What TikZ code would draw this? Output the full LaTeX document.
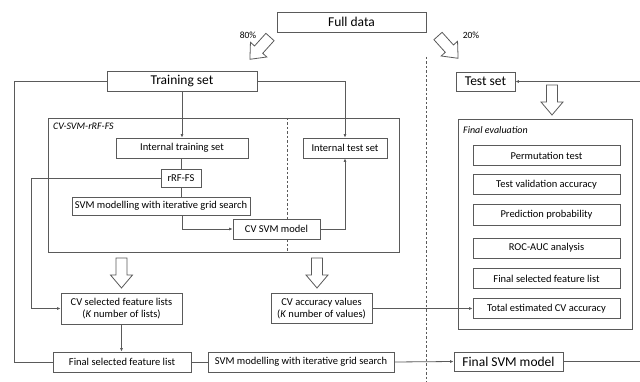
\documentclass[tikz,border=0pt]{standalone}
\usepackage{fontspec}
\setmainfont{Carlito}
\usetikzlibrary{arrows.meta}
\definecolor{ln}{HTML}{5A5A5A}
\begin{document}
\begin{tikzpicture}[x=1pt,y=-1pt,
  box/.style={draw=ln,line width=0.8pt,fill=white,inner sep=0pt,align=center,font=\fontsize{10.5}{12.5}\selectfont},
  bigbox/.style={box,font=\fontsize{13.5}{15}\selectfont},
  frame/.style={draw=ln,line width=0.8pt,inner sep=0pt},
  conn/.style={draw=ln,line width=0.8pt},
  arr/.style={conn,-{Latex[length=3.5pt,width=3pt]}},
  hollow/.pic={\draw[ln,line width=0.8pt,fill=white,line join=miter]
     (-5.5,0) -- (5.5,0) -- (5.5,17) -- (11,17) -- (0,30) -- (-11,17) -- (-5.5,17) -- cycle;},
  lbl/.style={font=\fontsize{9.5}{11}\selectfont,inner sep=0pt},
  ital/.style={font=\fontsize{10}{12}\selectfont\itshape,inner sep=0pt,anchor=west}]
\useasboundingbox (0,0) rectangle (640,382);
\fill[white] (0,0) rectangle (640,382);

% containers
\node[frame,minimum width=351pt,minimum height=134pt] (cvframe) at (223.5,185) {};
\node[ital] (cvlabel) at (53,126) {CV-SVM-rRF-FS};
\draw[ln,line width=0.8pt,dash pattern=on 2.5pt off 2pt] (287.5,118) -- (287.5,252);
\node[frame,minimum width=174pt,minimum height=210pt] (evalframe) at (545,224) {};
\node[ital] (evallabel) at (463,130) {Final evaluation};
\draw[ln,line width=0.8pt,dash pattern=on 2.5pt off 2pt] (426,57) -- (426,382);

% top
\node[bigbox,minimum width=149pt,minimum height=20pt] (full) at (351.5,22) {Full data};
\node[bigbox,minimum width=150pt,minimum height=20pt] (train) at (182,81) {Training set};
\node[bigbox,minimum width=59pt,minimum height=19pt] (test) at (485.5,81.5) {Test set};
\pic[rotate=-42] at (270,37) {hollow};
\pic[rotate=42] at (438,36) {hollow};
\node[lbl] (p80) at (248,35) {80\%};
\node[lbl] (p20) at (471,35) {20\%};
\pic at (552,85) {hollow};

% inner CV
\node[box,minimum width=132pt,minimum height=20pt] (itrain) at (182,148) {Internal training set};
\node[box,minimum width=84pt,minimum height=20pt] (itest) at (345,148) {Internal test set};
\node[box,minimum width=40pt,minimum height=18pt] (rrf) at (181,178) {rRF-FS};
\node[box,minimum width=178pt,minimum height=18pt] (svm1) at (161,206) {SVM modelling with iterative grid search};
\node[box,minimum width=87pt,minimum height=20pt] (cvsvm) at (276.5,229) {CV SVM model};

\pic at (121.5,258) {hollow};
\pic at (317,258) {hollow};

\node[box,minimum width=121pt,minimum height=31pt] (cvsel) at (121.5,308.5) {CV selected feature lists\\(\textit{K} number of lists)};
\node[box,minimum width=101pt,minimum height=30pt] (cvacc) at (321.5,308.5) {CV accuracy values\\(\textit{K} number of values)};
\node[box,minimum width=138pt,minimum height=20pt] (finsel) at (122,362) {Final selected feature list};
\node[box,minimum width=186pt,minimum height=20pt] (svm2) at (301,362) {SVM modelling with iterative grid search};
\node[bigbox,minimum width=109pt,minimum height=19pt] (finsvm) at (508.5,361.5) {Final SVM model};

% eval boxes
\node[box,minimum width=147pt,minimum height=20pt] (perm) at (546.5,155.5) {Permutation test};
\node[box,minimum width=147pt,minimum height=20pt] (tva) at (546.5,184.5) {Test validation accuracy};
\node[box,minimum width=147pt,minimum height=21pt] (pp) at (546.5,215) {Prediction probability};
\node[box,minimum width=147pt,minimum height=20pt] (roc) at (546.5,248) {ROC-AUC analysis};
\node[box,minimum width=147pt,minimum height=20pt] (fsl) at (546.5,278.5) {Final selected feature list};
\node[box,minimum width=147pt,minimum height=20pt] (tot) at (546.5,308.5) {Total estimated CV accuracy};

% connectors
\coordinate (lft) at (14,81);
\draw[conn] (train.west) -- (lft) |- (finsel.west);
\draw[arr] (train.east) -| (itest.north);
\draw[arr] (train.south) -- (itrain.north);
\draw[conn] (itrain.south -| rrf.north) -- (rrf.north);
\draw[conn] (rrf.south) -- (rrf.south |- svm1.north);
\draw[arr] (svm1.south -| itrain.south) |- (cvsvm.west);
\draw[arr] (cvsvm.east) -| (itest.south);
\coordinate (rl) at (31,178);
\draw[arr] (rrf.west) -- (rl) |- (cvsel.west);
\draw[arr] (cvsel.south) -- (cvsel.south |- finsel.north);
\draw[conn] (finsel.east) -- (svm2.west);
\draw[arr] (svm2.east) -- (finsvm.west);
\coordinate (rr) at (640,361.5);
\draw[arr] (finsvm.east) -- (rr) |- (test.east);
\draw[arr] (cvacc.east) -- (tot.west);
\end{tikzpicture}
\end{document}
